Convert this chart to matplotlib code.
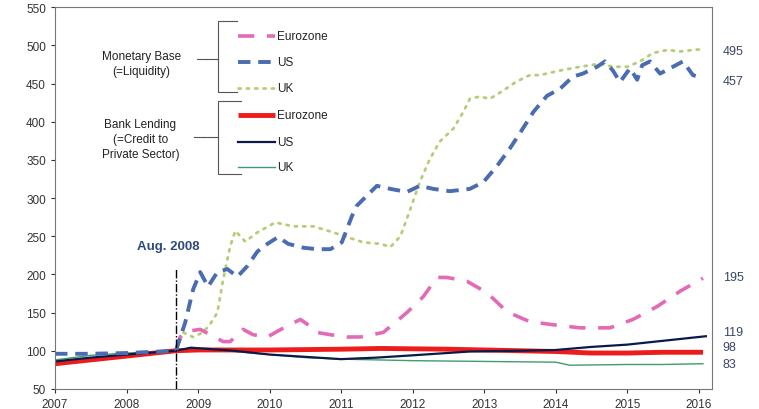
import matplotlib
matplotlib.use("Agg")
import matplotlib.pyplot as plt
from matplotlib.lines import Line2D

plt.rcParams["font.family"] = ["Liberation Sans", "DejaVu Sans"]

# Monetary base, indexed (Aug 2008 = 100)
t_us_mb = [2007.00, 2007.49, 2008.01, 2008.47, 2008.69, 2008.82, 2008.93, 2009.03, 2009.14,
           2009.27, 2009.41, 2009.55, 2009.69, 2009.83, 2009.97, 2010.12, 2010.26, 2010.47,
           2010.66, 2010.85, 2011.01, 2011.15, 2011.22, 2011.36, 2011.50, 2011.69, 2011.92,
           2012.10, 2012.29, 2012.52, 2012.80, 2012.99, 2013.18, 2013.36, 2013.50, 2013.69,
           2013.88, 2014.06, 2014.24, 2014.38, 2014.58, 2014.69, 2014.80, 2014.90, 2015.04,
           2015.14, 2015.21, 2015.32, 2015.46, 2015.64, 2015.78, 2015.92, 2016.06]
us_mb = [96, 96, 97, 99, 100, 137, 180, 203, 184,
         203, 207, 197, 211, 230, 240, 249, 240, 235,
         233, 233, 242, 276, 290, 303, 316, 312, 308,
         316, 312, 309, 312, 321, 342, 365, 385, 413,
         434, 443, 459, 463, 472, 479, 467, 452, 470,
         455, 474, 479, 463, 472, 479, 461, 457]

t_uk_mb = [2007.00, 2007.50, 2008.00, 2008.69, 2008.79, 2008.93, 2009.07, 2009.17, 2009.27,
           2009.35, 2009.45, 2009.52, 2009.66, 2009.83, 2010.08, 2010.33, 2010.61, 2010.89,
           2011.08, 2011.31, 2011.55, 2011.69, 2011.83, 2011.97, 2012.10, 2012.24, 2012.38,
           2012.57, 2012.71, 2012.80, 2012.94, 2013.08, 2013.27, 2013.46, 2013.64, 2013.78,
           2014.06, 2014.34, 2014.62, 2014.80, 2015.00, 2015.18, 2015.36, 2015.56, 2015.74,
           2015.92, 2016.06]
uk_mb = [84, 88, 93, 100, 124, 118, 124, 135, 150,
         193, 237, 257, 243, 255, 268, 263, 263, 255,
         249, 242, 240, 236, 250, 286, 321, 351, 374,
         391, 413, 430, 433, 430, 441, 453, 461, 461,
         467, 472, 476, 472, 472, 479, 490, 494, 492,
         494, 495]

t_ez_mb = [2008.69, 2008.75, 2008.82, 2009.03, 2009.17, 2009.35, 2009.45,
           2009.63, 2009.77, 2009.97, 2010.10, 2010.24, 2010.43, 2010.57, 2010.66, 2010.85,
           2011.08, 2011.27, 2011.59, 2011.92, 2012.15, 2012.34, 2012.48, 2012.76, 2013.04,
           2013.32, 2013.64, 2013.97, 2014.34, 2014.76, 2015.08, 2015.42, 2015.74, 2016.06]
ez_mb = [100, 118, 125, 128, 121, 112, 112,
         128, 121, 118, 125, 132, 141, 132, 124, 121,
         118, 118, 124, 150, 171, 196, 196, 191, 176,
         151, 138, 134, 130, 130, 141, 158, 178, 195]

# Bank lending to the private sector, indexed
t_ez_bl = [2007.0, 2007.5, 2008.0, 2008.69, 2009.0, 2010.0, 2011.0, 2011.55, 2012.5,
           2013.5, 2014.0, 2014.5, 2015.0, 2015.5, 2016.06]
ez_bl = [83, 88, 93, 100, 101, 101, 102, 103, 102, 100, 99, 97, 97, 98, 98]

t_us_bl = [2007.0, 2007.5, 2008.0, 2008.69, 2008.9, 2009.5, 2010.0, 2010.5, 2011.0, 2011.5,
           2012.0, 2012.8, 2013.5, 2014.0, 2014.5, 2015.0, 2015.5, 2016.1]
us_bl = [86, 91, 95, 100, 104, 100, 95, 92, 89, 91, 94, 99, 100, 101, 105, 108, 113, 119]

t_uk_bl = [2007.0, 2007.5, 2008.0, 2008.69, 2008.9, 2009.5, 2010.0, 2010.5, 2011.0, 2011.5,
           2012.0, 2013.0, 2014.0, 2014.2, 2015.0, 2015.5, 2016.06]
uk_bl = [88, 94, 97, 100, 103, 99, 95, 91, 89, 88, 87, 86, 85, 81, 82, 82, 83]

end_labels = ["495", "457", "195", "119", "98", "83"]
end_label_y = [492, 453, 197, 125, 105, 83]

years = list(range(2007, 2017))
yticks = list(range(50, 551, 50))

c_pink = "#e36bb6"
c_blue = "#4a6cb0"
c_green = "#b5cd78"
c_red = "#ee1b1b"
c_navy = "#0c1a4a"
c_teal = "#3f9c70"

fig = plt.figure(figsize=(7.59, 4.10), dpi=100)
ax = fig.add_axes([0.0725, 0.049, 0.865, 0.931])

ax.plot(t_uk_mb, uk_mb, color=c_green, lw=2.0, dashes=(0.8, 2.2), dash_capstyle="round")
ax.plot(t_uk_bl, uk_bl, color=c_teal, lw=1.0)
ax.plot(t_ez_bl, ez_bl, color=c_red, lw=3.5, solid_capstyle="butt")
ax.plot(t_us_bl, us_bl, color=c_navy, lw=1.6)
ax.plot(t_ez_mb, ez_mb, color=c_pink, lw=2.6, dashes=(4.5, 3.5))
ax.plot(t_us_mb, us_mb, color=c_blue, lw=2.8, dashes=(3.2, 2.0))

# Aug. 2008 marker
ax.plot([2008.69, 2008.69], [50, 207], color="black", lw=1.0, dashes=(6, 1.5, 1, 1.5))
ax.text(2008.58, 237, "Aug. 2008", color="#2f4b7c", fontsize=9.5, fontweight="bold",
        ha="center", va="center")

ax.set_xlim(2007, 2016.18)
ax.set_ylim(50, 550)
ax.set_xticks(years)
ax.set_yticks(yticks)
ax.tick_params(axis="both", labelsize=8.5, colors="#333333", length=3)
for s in ax.spines.values():
    s.set_color("#777777")
    s.set_linewidth(0.8)

for lab, yv in zip(end_labels, end_label_y):
    ax.text(1.017, yv, lab, transform=ax.get_yaxis_transform(), fontsize=9,
            color="#3a4666", ha="left", va="center")

# bracketed legend
tr = ax.transAxes
entries = [
    ("Eurozone", dict(color=c_pink, lw=2.6, dashes=(4.5, 3.5))),
    ("US", dict(color=c_blue, lw=2.8, dashes=(3.2, 2.0))),
    ("UK", dict(color=c_green, lw=2.0, dashes=(0.8, 2.2), dash_capstyle="round")),
    ("Eurozone", dict(color=c_red, lw=3.5, solid_capstyle="butt")),
    ("US", dict(color=c_navy, lw=1.6)),
    ("UK", dict(color=c_teal, lw=1.0)),
]
entry_y = [0.924, 0.856, 0.788, 0.717, 0.647, 0.581]
for (name, style), yy in zip(entries, entry_y):
    ax.add_line(Line2D([0.279, 0.335], [yy, yy], transform=tr, **style))
    ax.text(0.338, yy, name, transform=tr, fontsize=8.5, color="#222222", va="center")


def bracket(y0, y1, ymid, x_arm, x_stem, x_tip, x_link):
    kw = dict(transform=tr, color="#555555", lw=0.8)
    ax.add_line(Line2D([x_arm, x_stem, x_stem, x_arm], [y0, y0, y1, y1], **kw))
    ax.add_line(Line2D([x_stem, x_tip], [ymid, ymid], **kw))
    ax.add_line(Line2D([x_tip, x_link], [ymid, ymid], **kw))


bracket(0.963, 0.777, 0.864, 0.277, 0.248, 0.232, 0.216)
bracket(0.754, 0.563, 0.660, 0.283, 0.248, 0.225, 0.212)

ax.text(0.132, 0.852, "Monetary Base\n(=Liquidity)", transform=tr, fontsize=8.5,
        color="#222222", ha="center", va="center", linespacing=1.3)
ax.text(0.130, 0.655, "Bank Lending\n(=Credit to\nPrivate Sector)", transform=tr,
        fontsize=8.5, color="#222222", ha="center", va="center", linespacing=1.3)

fig.savefig("out.png", dpi=100)
